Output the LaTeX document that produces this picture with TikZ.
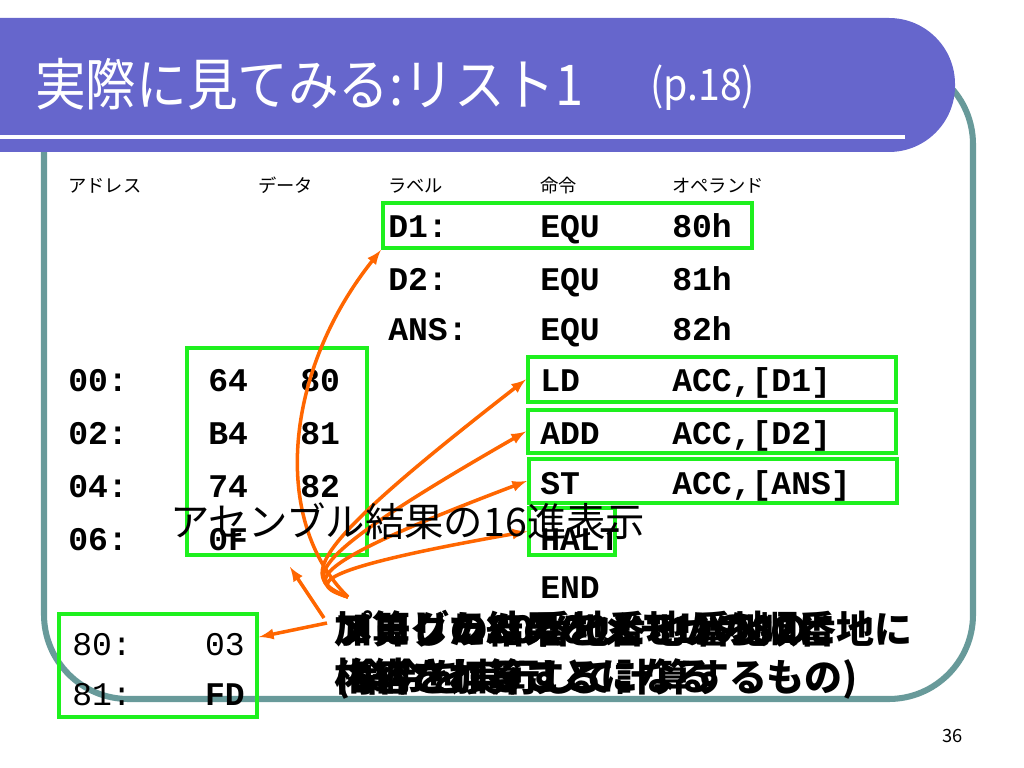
\documentclass[tikz,border=0pt]{standalone}
\usepackage{fontspec}
\setmainfont{Noto Sans CJK JP}
\setmonofont{Liberation Mono}
\usepackage{tikz}
\usetikzlibrary{arrows, calc, positioning}

\definecolor{titleblue}{RGB}{102,102,204}
\definecolor{framecol}{RGB}{104,154,154}
\definecolor{boxgreen}{RGB}{30,240,30}
\definecolor{arrorange}{RGB}{255,102,0}
\newcommand{\codefont}{\ttfamily\fontsize{23.5}{28}\selectfont}

\begin{document}
\begin{tikzpicture}[x=0.025cm,y=-0.025cm,
    gbox/.style={draw=boxgreen,line width=3pt,inner sep=0pt},
    code/.style={anchor=base west,inner sep=0pt,font=\codefont\bfseries},
    coderm/.style={anchor=base west,inner sep=0pt,font=\codefont},
    head/.style={anchor=base west,inner sep=0pt,font=\fontsize{13}{15}\selectfont},
    expl/.style={anchor=north west,inner sep=0pt,align=left,font=\fontsize{27}{34}\selectfont\bfseries},
    oarr/.style={draw=arrorange,line width=2.5pt,->,>=latex}]
      \useasboundingbox (0,0) rectangle (1024,768);

      \draw[framecol,line width=4.3pt,rounded corners=60pt] (44,60) rectangle (973,699);
      \fill[titleblue,rounded corners=47pt] (-100,18) rectangle (955,152);
      \draw[white,line width=3pt] (0,137) -- (905,137);

      \node[anchor=base west,inner sep=0pt,text=white,xscale=0.9,font=\fontsize{40}{44}\selectfont] (title) at (35,106) {実際に見てみる:リスト1};
      \node[anchor=base west,inner sep=0pt,text=white,xscale=0.9,font=\fontsize{31}{34}\selectfont] (page) at (650,101) {(p.18)};

      \node[head] (hadr) at (68,192) {アドレス};
      \node[head] (hdat) at (258,192) {データ};
      \node[head] (hlab) at (388,192) {ラベル};
      \node[head] (hins) at (540,192) {命令};
      \node[head] (hopr) at (672,192) {オペランド};

      \node[gbox,minimum width=9.225cm,minimum height=1.125cm] (d1box) at (567.5,225.5) {};
      \node[gbox,minimum width=4.5cm,minimum height=5.175cm] (datbox) at (277,451.5) {};
      \node[gbox,minimum width=9.2cm,minimum height=1.125cm] (ldbox) at (712,379.5) {};
      \node[gbox,minimum width=9.2cm,minimum height=1.075cm] (addbox) at (712,431.5) {};
      \node[gbox,minimum width=9.2cm,minimum height=1.1cm] (stbox) at (713,481) {};
      \node[gbox,minimum width=2.15cm,minimum height=1.175cm] (hltbox) at (572,531.5) {};
      \node[gbox,minimum width=4.95cm,minimum height=2.575cm] (membox) at (158,665.5) {};

      \node[code] (d1) at (388,237) {D1:};
      \node[code] (d1i) at (540,237) {EQU};
      \node[code] (d1o) at (672,237) {80h};
      \node[code] (d2) at (388,290) {D2:};
      \node[code] (d2i) at (540,290) {EQU};
      \node[code] (d2o) at (672,290) {81h};
      \node[code] (ans) at (388,340) {ANS:};
      \node[code] (ansi) at (540,340) {EQU};
      \node[code] (anso) at (672,340) {82h};

      \node[code] (a00) at (68,391) {00:};
      \node[code] (v00) at (208,391) {64};
      \node[code] (v01) at (300,391) {80};
      \node[code] (ld) at (540,391) {LD};
      \node[code] (ldo) at (672,391) {ACC,[D1]};
      \node[code] (a02) at (68,444) {02:};
      \node[code] (v02) at (208,444) {B4};
      \node[code] (v03) at (300,444) {81};
      \node[code] (add) at (540,444) {ADD};
      \node[code] (addo) at (672,444) {ACC,[D2]};
      \node[code] (a04) at (68,497) {04:};
      \node[code] (v04) at (208,497) {74};
      \node[code] (v05) at (300,497) {82};
      \node[code] (st) at (540,494) {ST};
      \node[code] (sto) at (672,494) {ACC,[ANS]};
      \node[code] (a06) at (68,550) {06:};
      \node[code] (v06) at (208,550) {0F};
      \node[code] (hlt) at (540,550) {HALT};
      \node[code] (endi) at (540,598) {END};

      \node[coderm] (m80) at (72,655) {80:};
      \node[coderm,anchor=base east] (m80v) at (245,655) {03};
      \node[coderm] (m81) at (72,705) {81:};
      \node[code,anchor=base east] (m81v) at (245,705) {FD};

      \coordinate (fan) at (348,597);
      \coordinate (up1) at (324,618);
      \coordinate (up1e) at (290,567);
      \coordinate (mem1) at (327,623);
      \draw[oarr] (fan) .. controls (270,520) and (285,370) .. (d1box.south west);
      \draw[oarr] (fan) .. controls (300,578) and (300,555) .. (ldbox.west);
      \draw[oarr] (fan) .. controls (302,580) and (302,560) .. (addbox.west);
      \draw[oarr] (fan) .. controls (305,582) and (305,565) .. (stbox.west);
      \draw[oarr] (fan) .. controls (308,585) and (308,570) .. (hltbox.west);
      \draw[oarr] (up1) -- (up1e);
      \draw[oarr] (mem1) -- (membox.east |- 0,637);

      \node[anchor=base west,inner sep=0pt,font=\fontsize{28}{32}\selectfont] (asm) at (170,536) {アセンブル結果の16進表示};

      \node[expl] (exa) at (335,610) {プログラムの00番地から順に\\(命令を実行して計算するもの)};
      \node[expl] (exb) at (336,611) {メモリの80番地と81番地の\\内容を加算する};
      \node[expl] (exc) at (334,610) {加算した結果をメモリの82番地に\\格納されることになる};

      \node[anchor=base west,inner sep=0pt,font=\fontsize{13}{15}\selectfont] (pnum) at (942,742) {36};
\end{tikzpicture}
\end{document}
